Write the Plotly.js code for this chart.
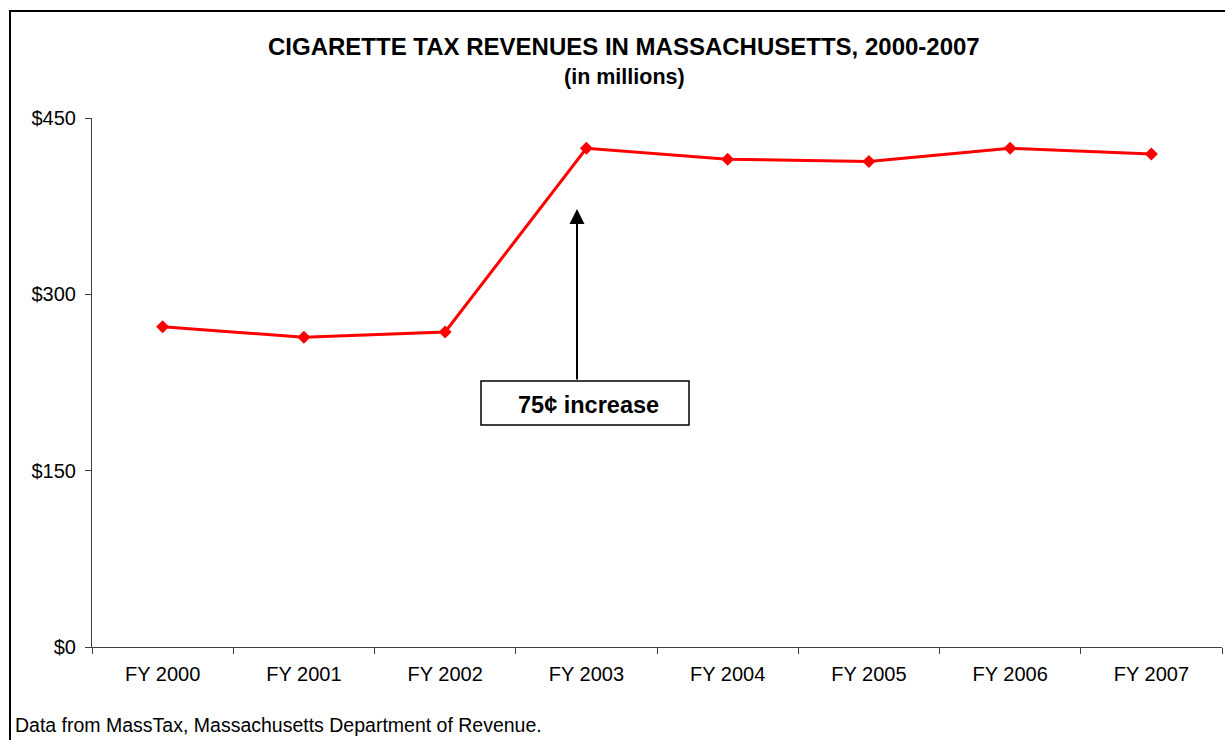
<!DOCTYPE html>
<html>
<head>
<meta charset="utf-8">
<script src="https://cdn.plot.ly/plotly-3.0.1.min.js"></script>
<style>
  html, body { margin: 0; padding: 0; background: #fff; }
  #chart { width: 1225px; height: 740px; }
</style>
</head>
<body>
<div id="chart"></div>
<script>
// Data
const fiscalYears = ["FY 2000", "FY 2001", "FY 2002", "FY 2003", "FY 2004", "FY 2005", "FY 2006", "FY 2007"];
const revenues = [272.5, 263.4, 268.0, 424.2, 415.0, 413.0, 424.2, 419.4];
const yTicks = [0, 150, 300, 450];

const titleText = "CIGARETTE TAX REVENUES IN MASSACHUSETTS, 2000-2007";
const subtitleText = "(in millions)";
const calloutText = "75¢ increase";
const sourceText = "Data from MassTax, Massachusetts Department of Revenue.";

const FONT = "Liberation Sans, Arial, sans-serif";
const AXIS_COLOR = "#404040";

const trace = {
  type: "scatter",
  mode: "lines+markers",
  x: fiscalYears,
  y: revenues,
  line: { color: "#FF0000", width: 3 },
  marker: { symbol: "diamond", size: 10, color: "#FF0000" },
  hoverinfo: "x+y"
};

// plot area: x 92..1222, y 118..647
const L = 92, R = 1225 - 1222, T = 118, B = 740 - 647;
const PW = 1225 - L - R, PH = 740 - T - B;
const px = v => (v - L) / PW;          // pixel x -> paper
const py = v => (740 - B - v) / PH;    // pixel y -> paper

const layout = {
  width: 1225,
  height: 740,
  margin: { l: L, r: R, t: T, b: B, pad: 0 },
  paper_bgcolor: "#ffffff",
  plot_bgcolor: "#ffffff",
  showlegend: false,
  font: { family: FONT, color: "#000", size: 20 },
  xaxis: {
    type: "category",
    range: [-0.5, fiscalYears.length - 0.5],
    tickson: "boundaries",
    ticks: "outside",
    ticklen: 6,
    tickcolor: AXIS_COLOR,
    showline: true,
    linecolor: AXIS_COLOR,
    linewidth: 1,
    showgrid: false,
    zeroline: false,
    ticklabelstandoff: 9,
    tickfont: { family: FONT, size: 20, color: "#000" },
    fixedrange: true
  },
  yaxis: {
    range: [0, 450],
    tickmode: "array",
    tickvals: yTicks,
    ticktext: yTicks.map(v => "$" + v),
    ticks: "outside",
    ticklen: 6,
    tickcolor: AXIS_COLOR,
    showline: true,
    linecolor: AXIS_COLOR,
    linewidth: 1,
    showgrid: false,
    zeroline: false,
    ticklabelstandoff: 5,
    tickfont: { family: FONT, size: 20, color: "#000" },
    fixedrange: true
  },
  shapes: [
    // outer chart border (right/bottom edges fall outside the picture)
    { type: "rect", xref: "paper", yref: "paper",
      x0: px(10), x1: px(1240), y0: py(760), y1: py(11),
      line: { color: "#000", width: 2 }, fillcolor: "rgba(0,0,0,0)", layer: "above" },
    // callout box
    { type: "rect", xref: "paper", yref: "paper",
      x0: px(481), x1: px(689), y0: py(425), y1: py(381),
      line: { color: "#000", width: 1.5 }, fillcolor: "#ffffff", layer: "above" }
  ],
  annotations: [
    { text: "<b>" + titleText + "</b>", xref: "paper", yref: "paper",
      x: px(624), y: py(46), xanchor: "center", yanchor: "middle", showarrow: false,
      font: { family: FONT, size: 24, color: "#000" } },
    { text: "<b>" + subtitleText + "</b>", xref: "paper", yref: "paper",
      x: px(624), y: py(77), xanchor: "center", yanchor: "middle", showarrow: false,
      font: { family: FONT, size: 21.5, color: "#000" } },
    { text: "<b>" + calloutText + "</b>", xref: "paper", yref: "paper",
      x: px(588), y: py(405), xanchor: "center", yanchor: "middle", showarrow: false,
      font: { family: FONT, size: 23.5, color: "#000" } },
    // arrow pointing to the FY 2003 jump
    { text: "", xref: "paper", yref: "paper",
      x: px(577), y: py(209), showarrow: true,
      axref: "pixel", ayref: "pixel", ax: 0, ay: 381 - 209,
      arrowhead: 2, arrowsize: 1.5, arrowwidth: 2, arrowcolor: "#000", standoff: 0 },
    { text: sourceText, xref: "paper", yref: "paper",
      x: px(13), y: py(725), xanchor: "left", yanchor: "middle", showarrow: false,
      font: { family: FONT, size: 19.5, color: "#000" } }
  ]
};

Plotly.newPlot("chart", [trace], layout, { displayModeBar: false, staticPlot: true });
</script>
</body>
</html>
